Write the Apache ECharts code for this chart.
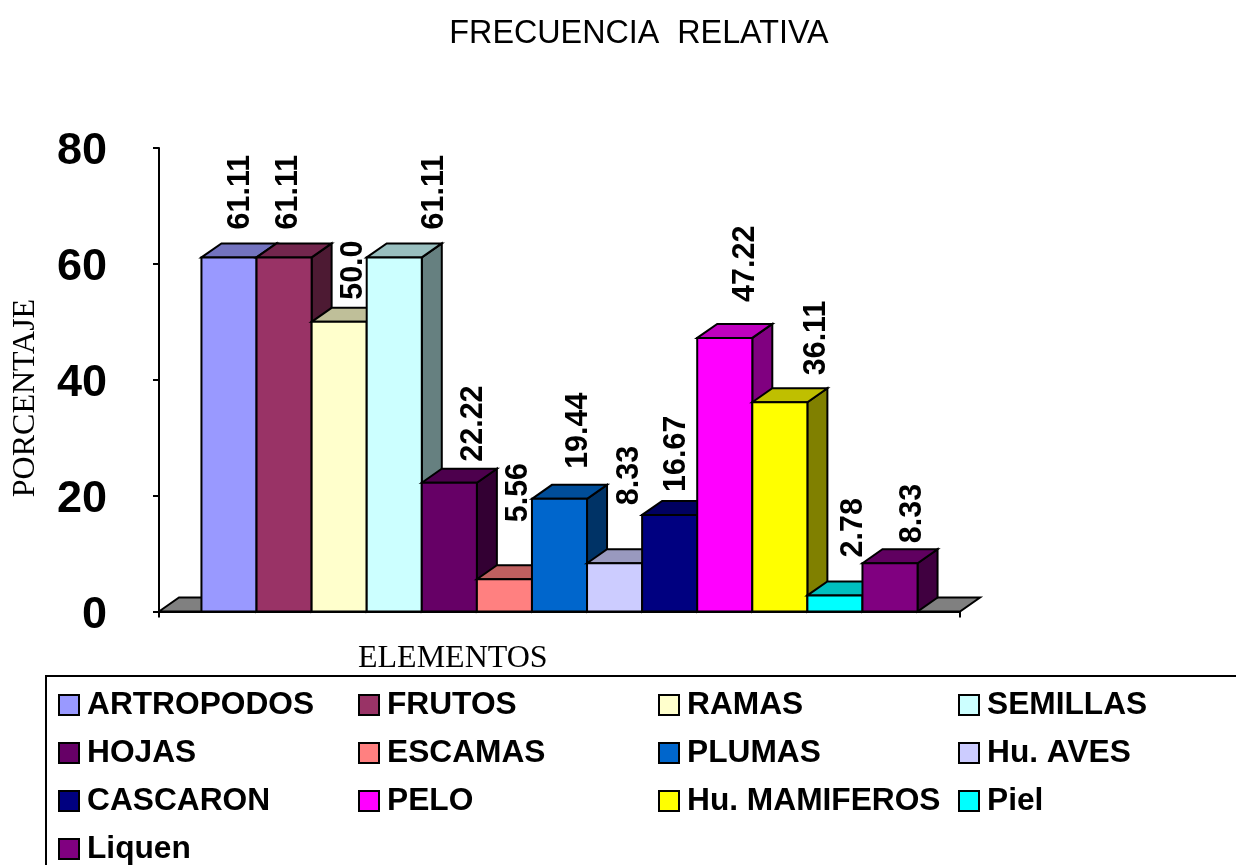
<!DOCTYPE html>
<html>
<head>
<meta charset="utf-8">
<style>html,body{margin:0;padding:0;background:#fff}#main{width:1236px;height:865px}</style>
<script src="https://cdn.jsdelivr.net/npm/echarts@6/dist/echarts.min.js"></script>
</head>
<body>
<div id="main"></div>
<script>
const names = ['ARTROPODOS', 'FRUTOS', 'RAMAS', 'SEMILLAS', 'HOJAS', 'ESCAMAS', 'PLUMAS', 'Hu. AVES', 'CASCARON', 'PELO', 'Hu. MAMIFEROS', 'Piel', 'Liquen'];
const values = [61.11, 61.11, 50.0, 61.11, 22.22, 5.56, 19.44, 8.33, 16.67, 47.22, 36.11, 2.78, 8.33];
const labels = ['61.11', '61.11', '50.0', '61.11', '22.22', '5.56', '19.44', '8.33', '16.67', '47.22', '36.11', '2.78', '8.33'];
const yTicks = [0, 20, 40, 60, 80];

const colors = ['#9999FF', '#993366', '#FFFFCC', '#CCFFFF', '#660066', '#FF8080', '#0066CC', '#CCCCFF', '#000080', '#FF00FF', '#FFFF00', '#00FFFF', '#800080'];
// hand placed labels in the original: shift from the top of each bar
const labelDx = [2, -5, 4, 30, 14, 4, 9, 5, -3, 11, 27, 9, 13];
const labelGap = [14, 14, 8, 14, 7, 43, 16, 44, 9, 22, 13, 24, 6];
const legendCols = [
  ['ARTROPODOS', 'HOJAS', 'CASCARON', 'Liquen'],
  ['FRUTOS', 'ESCAMAS', 'PELO'],
  ['RAMAS', 'PLUMAS', 'Hu. MAMIFEROS'],
  ['SEMILLAS', 'Hu. AVES', 'Piel']
];

const DX = 20, DY = -14, GROUP = 0.894;
const line = {stroke: '#000', lineWidth: 2, lineJoin: 'miter'};

function shade(hex, k) {
  const n = parseInt(hex.slice(1), 16);
  const c = [n >> 16, (n >> 8) & 255, n & 255].map(v => Math.round(v * k));
  return 'rgb(' + c.join(',') + ')';
}

function bar(i) {
  return function (params, api) {
    const base = api.coord([0, 0]);
    const top = api.coord([0, api.value(1)]);
    const band = api.size([1, 0])[0];
    const w = band * GROUP / values.length;
    const x = base[0] - band * GROUP / 2 + i * w;
    const y0 = base[1], y1 = top[1];
    const tx = x + w / 2 + DX / 2 + labelDx[i];
    return {
      type: 'group',
      children: [
        {type: 'polygon', shape: {points: [[x + w, y1], [x + w + DX, y1 + DY], [x + w + DX, y0 + DY], [x + w, y0]]},
          style: Object.assign({fill: shade(colors[i], 0.5)}, line)},
        {type: 'polygon', shape: {points: [[x, y1], [x + DX, y1 + DY], [x + w + DX, y1 + DY], [x + w, y1]]},
          style: Object.assign({fill: shade(colors[i], 0.75)}, line)},
        {type: 'rect', shape: {x: x, y: y1, width: w, height: y0 - y1},
          style: Object.assign({fill: colors[i]}, line)},
        {type: 'text', x: tx, y: y1 + DY - labelGap[i], rotation: Math.PI / 2, z2: 50,
          style: {text: labels[i], fill: '#000', font: 'bold 30.5px "Liberation Sans"', align: 'left', verticalAlign: 'middle'}}
      ]
    };
  };
}

function floor(params, api) {
  const base = api.coord([0, 0]);
  const band = api.size([1, 0])[0];
  const l = base[0] - band / 2, r = base[0] + band / 2, y = base[1];
  return {type: 'polygon', shape: {points: [[l, y], [l + DX, y + DY], [r + DX, y + DY], [r, y]]},
    style: Object.assign({fill: '#808080'}, line)};
}

const series = [{type: 'custom', name: 'piso', renderItem: floor, data: [[0, 0]], encode: {x: 0, y: 1}, silent: true}];
names.forEach((name, i) => {
  series.push({
    type: 'custom',
    name: name,
    renderItem: bar(i),
    data: [[0, values[i]]],
    encode: {x: 0, y: 1},
    clip: false,
    itemStyle: {color: colors[i], borderColor: '#000', borderWidth: 2}
  });
});

const legend = legendCols.map((col, c) => ({
  data: col,
  orient: 'vertical',
  left: 58 + c * 300,
  top: 689,
  height: 230,
  padding: 0,
  itemWidth: 20,
  itemHeight: 20,
  itemGap: 16,
  icon: 'rect',
  selectedMode: false,
  itemStyle: {borderColor: '#000', borderWidth: 2},
  textStyle: {color: '#000', fontFamily: 'Liberation Sans', fontWeight: 'bold', fontSize: 31.7, lineHeight: 32, padding: [0, 0, 0, 3]}
}));

const myChart = echarts.init(document.getElementById('main'), null, {renderer: 'canvas'});
myChart.setOption({
  animation: false,
  grid: {left: 159, right: 276, top: 148, height: 463.5},
  legend: legend,
  xAxis: {
    type: 'category',
    data: ['ELEMENTOS'],
    axisLine: {lineStyle: {color: '#000', width: 2}},
    axisTick: {show: true, length: 6, lineStyle: {color: '#000', width: 2}},
    axisLabel: {show: false}
  },
  yAxis: {
    type: 'value',
    min: yTicks[0],
    max: yTicks[yTicks.length - 1],
    interval: yTicks[1] - yTicks[0],
    splitLine: {show: false},
    axisLine: {show: true, lineStyle: {color: '#000', width: 2}},
    axisTick: {show: true, length: 6, lineStyle: {color: '#000', width: 2}},
    axisLabel: {
      margin: 52,
      formatter: '{v|{value}}',
      rich: {v: {color: '#000', fontFamily: 'Liberation Sans', fontWeight: 'bold', fontSize: 45, padding: [8, 0, 0, 0]}}
    }
  },
  graphic: [
    {type: 'text', x: 639, y: 34, style: {text: 'FRECUENCIA  RELATIVA', fill: '#000', font: '32.3px "Liberation Sans"', align: 'center', verticalAlign: 'middle'}},
    {type: 'text', x: 358, y: 659, style: {text: 'ELEMENTOS', fill: '#000', font: '32px "Liberation Serif"', align: 'left', verticalAlign: 'middle'}},
    {type: 'text', x: 26, y: 398, rotation: Math.PI / 2, style: {text: 'PORCENTAJE', fill: '#000', font: '32px "Liberation Serif"', align: 'center', verticalAlign: 'middle'}},
    {type: 'rect', shape: {x: 46, y: 676, width: 1300, height: 300}, style: {fill: 'none', stroke: '#000', lineWidth: 2}}
  ],
  series: series
});
</script>
</body>
</html>
